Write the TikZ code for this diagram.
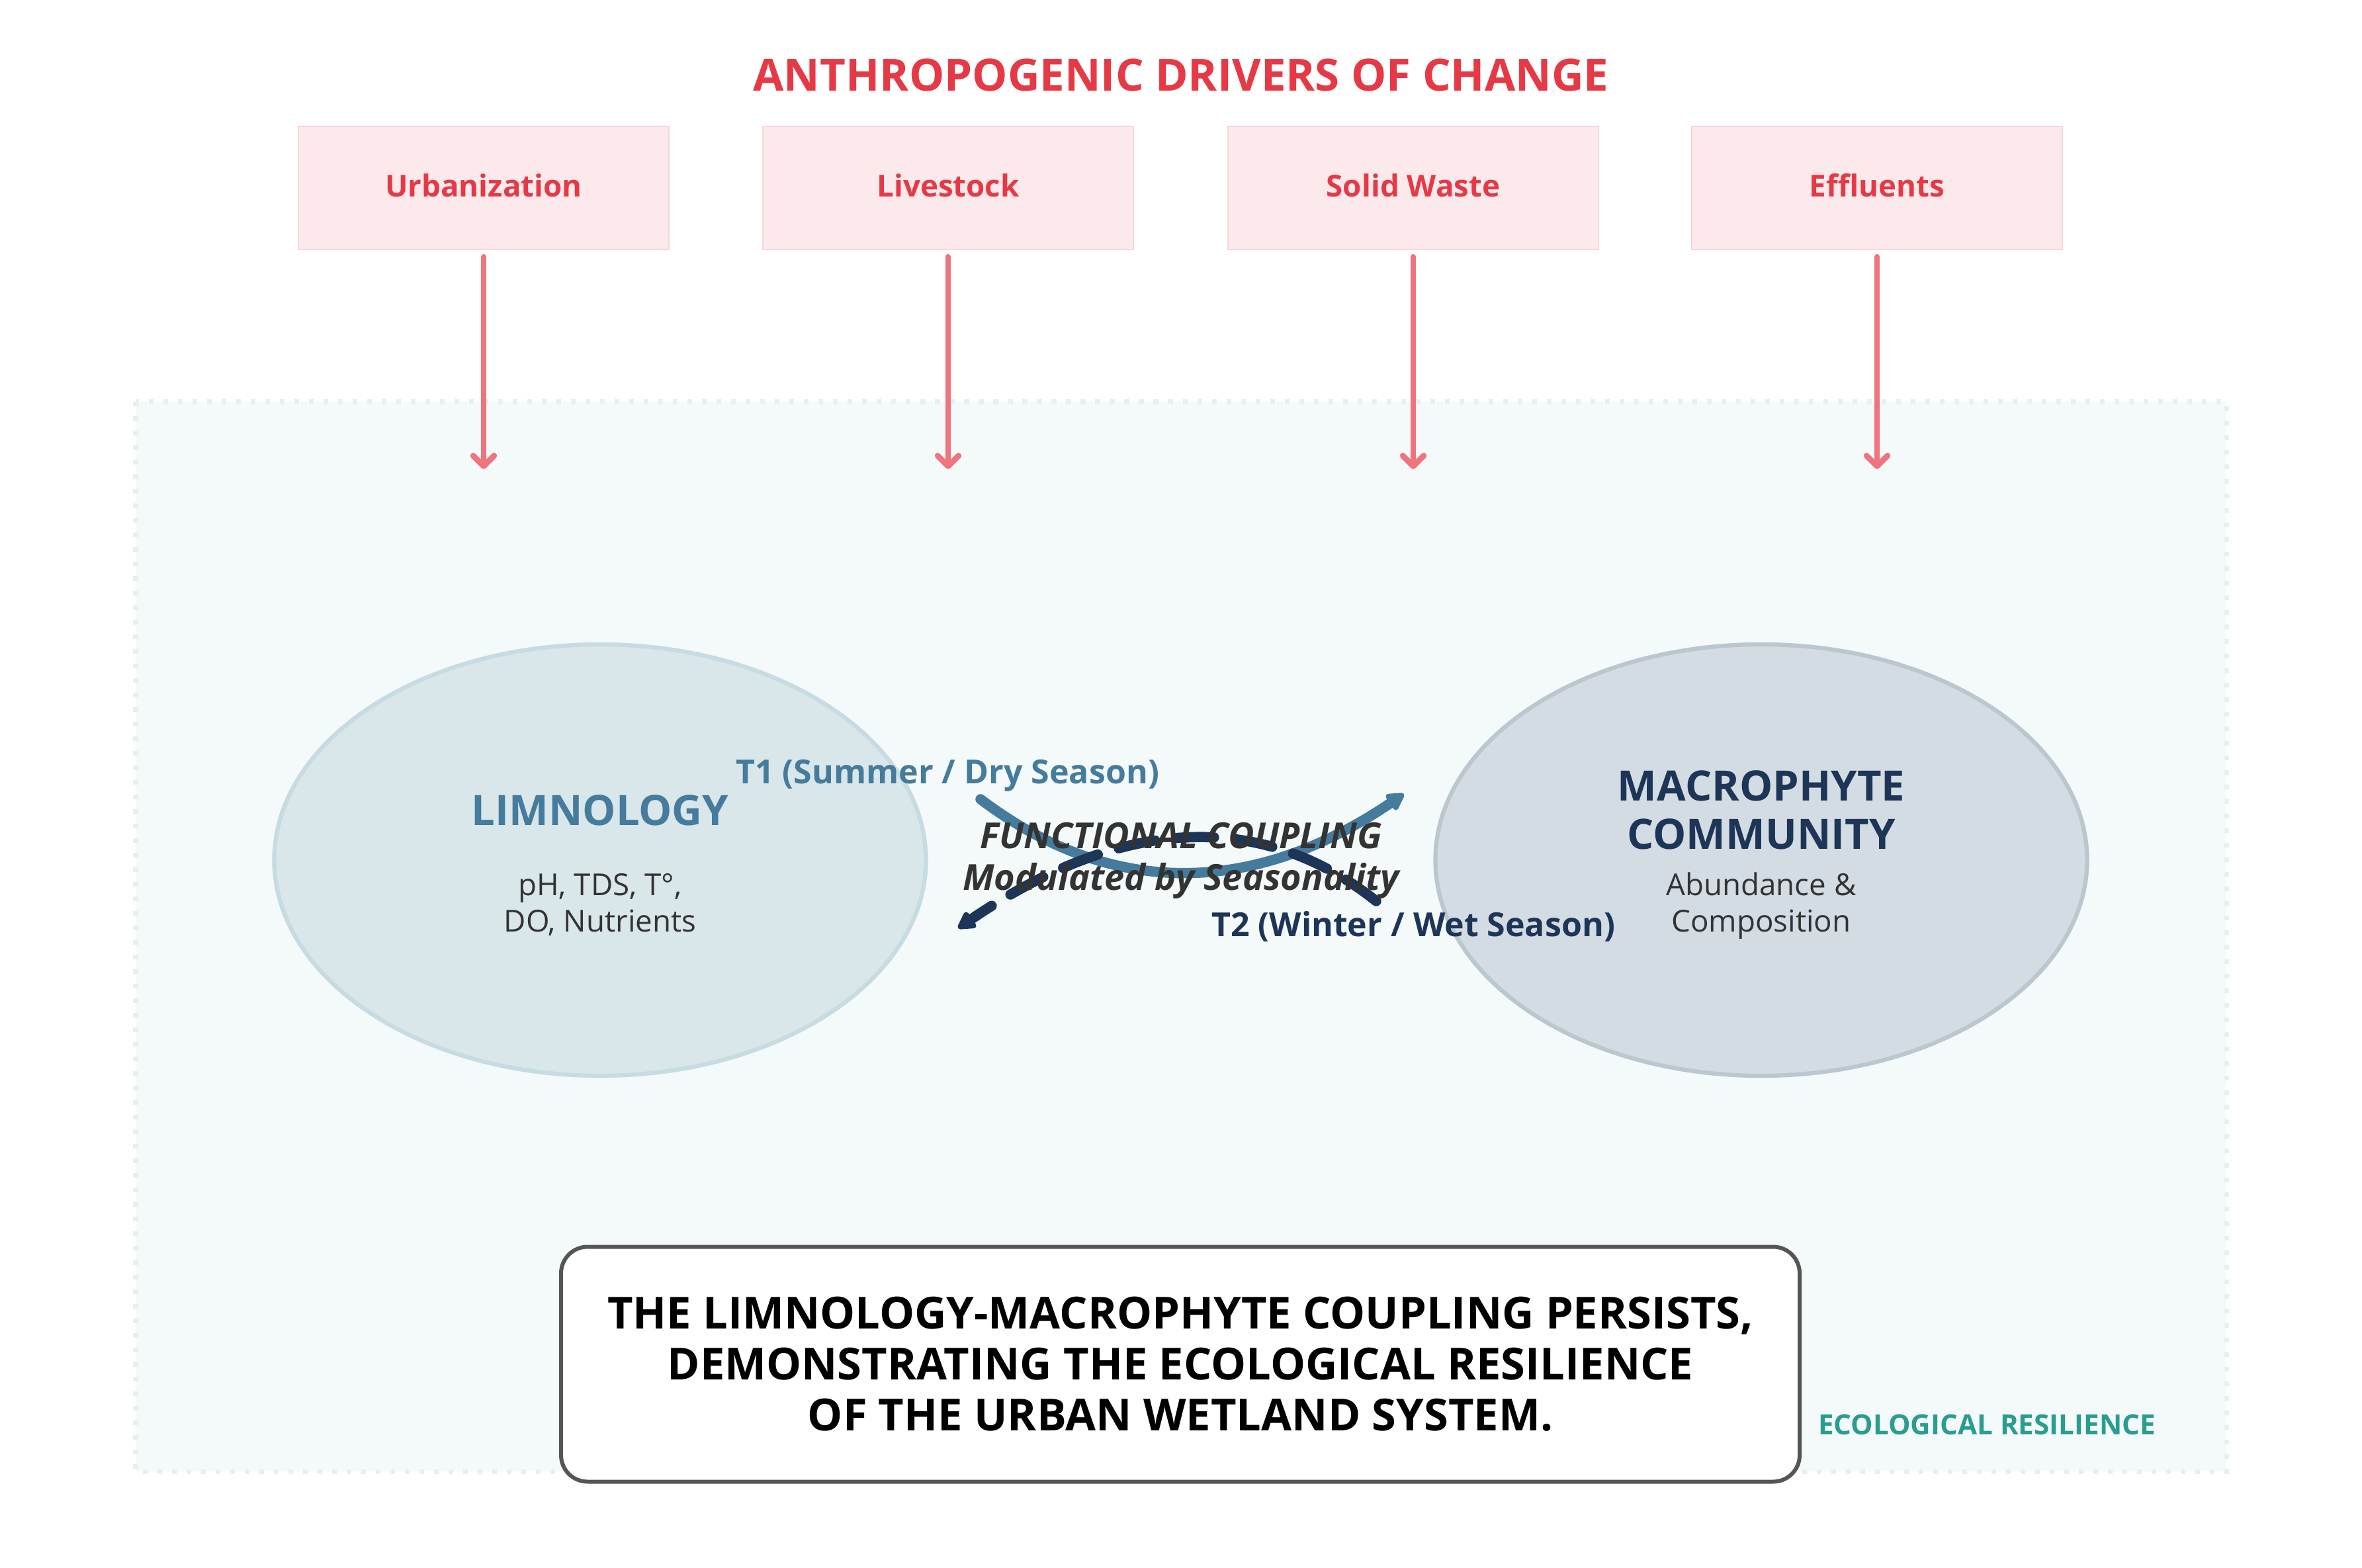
\documentclass[tikz,border=0pt]{standalone}
\usepackage{fontspec}
\setmainfont{Open Sans}
\usepackage{tikz}
\usetikzlibrary{positioning,arrows.meta,shapes.geometric,calc}
\definecolor{driverred}{RGB}{230,57,70}
\definecolor{driverfill}{RGB}{252,233,236}
\definecolor{driverline}{RGB}{249,213,219}
\definecolor{arrowred}{RGB}{238,116,126}
\definecolor{limblue}{RGB}{69,123,157}
\definecolor{navy}{RGB}{29,53,87}
\definecolor{resteal}{RGB}{42,157,143}
\definecolor{wetbg}{RGB}{244,249,249}
\definecolor{wetdot}{RGB}{229,241,238}
\definecolor{limfill}{RGB}{217,230,234}
\definecolor{limline}{RGB}{198,219,226}
\definecolor{macfill}{RGB}{211,220,226}
\definecolor{macline}{RGB}{187,199,207}
\definecolor{bodygray}{RGB}{51,51,51}
\definecolor{framegray}{RGB}{85,85,85}

\tikzset{
  driver/.style={draw=driverline, line width=0.8pt, fill=driverfill, minimum width=5.6cm, minimum height=1.86cm,
    text height=9.9pt, text depth=2.5pt, text=driverred, font=\bfseries\fontsize{13}{15}\selectfont},
  pressure/.style={draw=arrowred, line width=2.5pt, line cap=round, shorten <=2.8pt,
    -{Straight Barb[length=4.5pt,width=9pt,round]}},
  compartment/.style={ellipse, line width=1.8pt, minimum width=9.85cm, minimum height=6.52cm, inner sep=0pt},
  season/.style={line width=4.4pt, line cap=round, -{Triangle[round,length=8.5pt,width=9pt]}},
  boxtitle/.style={anchor=base, font=\bfseries\fontsize{18}{20.5}\selectfont},
  boxvars/.style={anchor=base, align=center, text=bodygray, font=\fontsize{13}{15.4}\selectfont},
  seasonlabel/.style={anchor=base, font=\bfseries\fontsize{14.25}{17}\selectfont}
}

\begin{document}
\begin{tikzpicture}
  \useasboundingbox (0,0) rectangle (35.7,-23.7);

  \fill[wetbg] (2.05,-6.07) rectangle (33.65,-22.24);
  \draw[wetdot, line width=2pt, dash pattern=on 2pt off 4.26pt] (2.05,-6.07) rectangle (33.65,-22.24);

  \node[anchor=base, text=driverred, font=\bfseries\fontsize{19.1}{22}\selectfont] (title) at (17.85,-1.38) {ANTHROPOGENIC DRIVERS OF CHANGE};

  \node[driver] (urb) at (7.31,-2.84) {Urbanization};
  \node[driver] (liv) at (14.33,-2.84) {Livestock};
  \node[driver] (sol) at (21.36,-2.84) {Solid Waste};
  \node[driver] (eff) at (28.37,-2.84) {Effluents};

  \foreach \n in {urb,liv,sol,eff}{
    \coordinate (\n-in) at (\n.south |- 0,-7.09);
    \draw[pressure] (\n.south) -- (\n-in);
  }

  \node[compartment, fill=limfill, draw=limline] (lim) at (9.07,-13.00) {};
  \node[compartment, fill=macfill, draw=macline] (mac) at (26.62,-13.00) {};

  \node[boxtitle, text=limblue] (limtitle) at (9.07,-12.47) {LIMNOLOGY};
  \node[boxvars] (limvars) at (9.07,-14.08) {pH, TDS, T°,\\DO, Nutrients};
  \node[boxtitle, text=navy, align=center] (mactitle) at (26.62,-12.83) {MACROPHYTE\\COMMUNITY};
  \node[boxvars] (macvars) at (26.62,-14.08) {Abundance \&\\Composition};

  \coordinate (t1start) at (14.82,-12.08);
  \coordinate (t1end) at (21.22,-12.00);
  \coordinate (t2start) at (20.80,-13.62);
  \coordinate (t2end) at (14.48,-14.03);
  \draw[season, limblue] (t1start) .. controls (16.79,-13.57) and (18.93,-13.55) .. (t1end);
  \draw[season, navy, dash pattern=on 16pt off 9.4pt] (t2start) .. controls (19.04,-12.22) and (16.93,-12.36) .. (t2end);

  \node[seasonlabel, text=limblue] (t1lab) at (14.32,-11.84) {T1 (Summer / Dry Season)};
  \node[seasonlabel, text=navy] (t2lab) at (21.36,-14.15) {T2 (Winter / Wet Season)};
  \node[anchor=base, align=center, text=bodygray, font=\bfseries\itshape\fontsize{15.4}{17.9}\selectfont] (coupling) at (17.85,-13.45) {FUNCTIONAL COUPLING\\Modulated by Seasonality};

  \node[draw=framegray, line width=1.7pt, rounded corners=0.4cm, fill=white, minimum width=18.72cm, minimum height=3.55cm,
    align=center, font=\bfseries\fontsize{19}{21.9}\selectfont] (concl) at (17.84,-20.62)
    {THE LIMNOLOGY-MACROPHYTE COUPLING PERSISTS,\\DEMONSTRATING THE ECOLOGICAL RESILIENCE\\OF THE URBAN WETLAND SYSTEM.};

  \node[anchor=base, text=resteal, font=\bfseries\fontsize{12}{14}\selectfont] (resil) at (30.03,-21.68) {ECOLOGICAL RESILIENCE};
\end{tikzpicture}
\end{document}
